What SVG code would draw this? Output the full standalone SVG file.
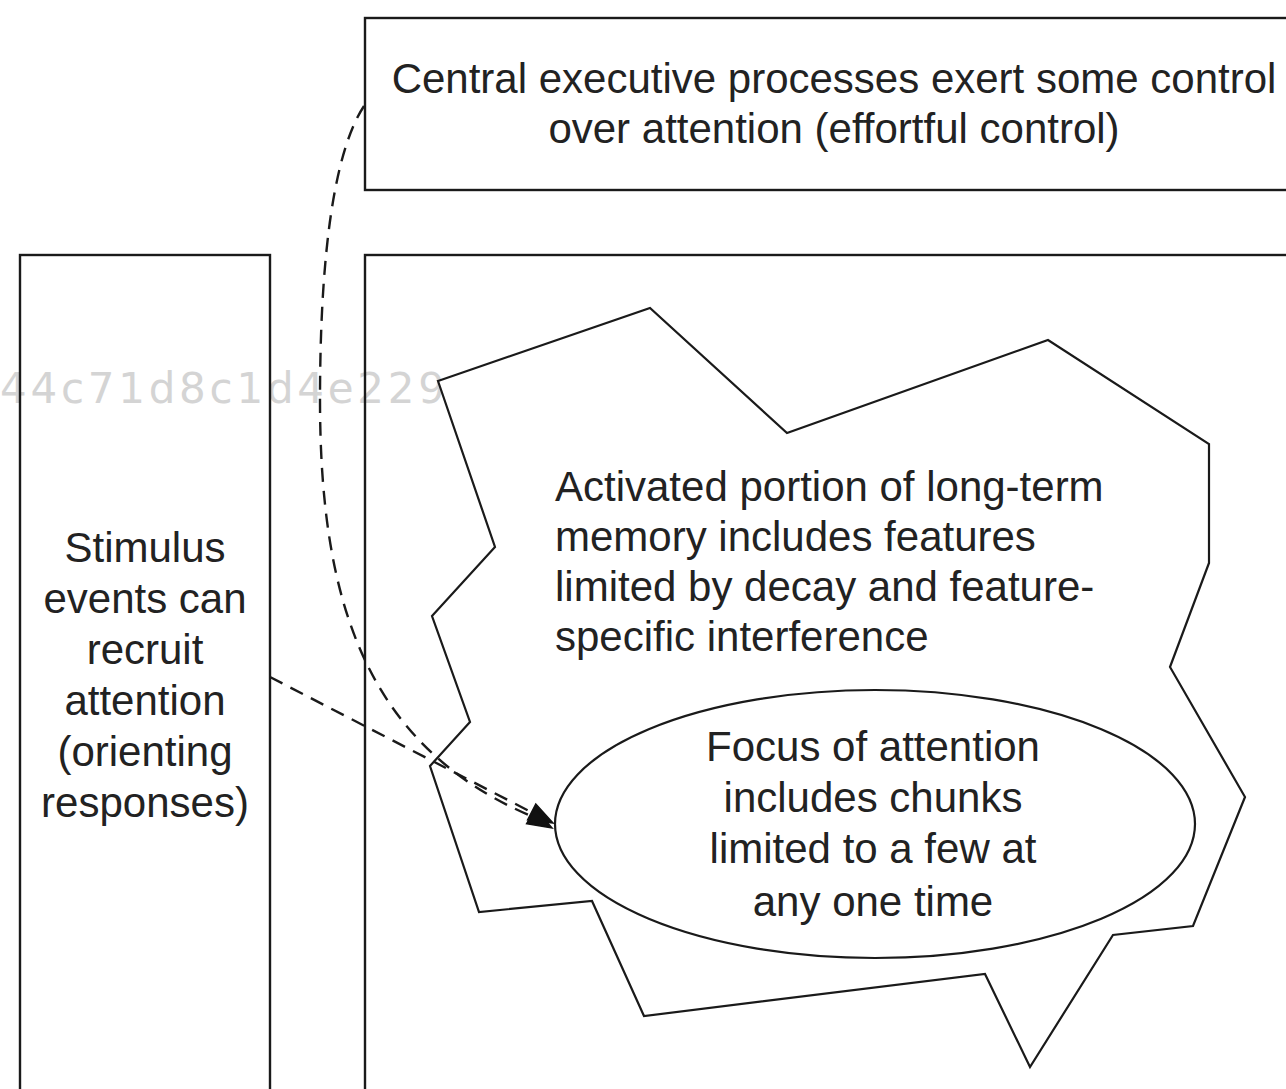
<svg xmlns="http://www.w3.org/2000/svg" width="1286" height="1089" viewBox="0 0 1286 1089">
<style>
.box{fill:none;stroke:#1a1a1a;stroke-width:2.4}
.shape{fill:#fff;stroke:#1a1a1a;stroke-width:2.2}
.t{font-family:"Liberation Sans",Arial,sans-serif;font-size:42px;fill:#222}
.c{text-anchor:middle}
.edge{fill:none;stroke:#1a1a1a;stroke-width:2.4;stroke-dasharray:14,9}
.head{fill:#111;stroke:#111;stroke-width:1.5;stroke-linejoin:miter}
.wm{font-family:"DejaVu Sans",sans-serif;font-size:42px;fill:#d4d4d4}
</style>
<rect width="1286" height="1089" fill="#fff"/>
<text class="wm" x="0" y="403" textLength="445" lengthAdjust="spacing">44c71d8c1d4e229</text>
<g id="central">
<rect class="box" x="365" y="18" width="1000" height="172"/>
<text class="t c" x="834" y="93">Central executive processes exert some control</text>
<text class="t c" x="834" y="143">over attention (effortful control)</text>
</g>
<g id="stimulus">
<rect class="box" x="20" y="255" width="250" height="900"/>
<text class="t c" x="145" y="562">Stimulus</text>
<text class="t c" x="145" y="613">events can</text>
<text class="t c" x="145" y="664">recruit</text>
<text class="t c" x="145" y="715">attention</text>
<text class="t c" x="145" y="766">(orienting</text>
<text class="t c" x="145" y="817">responses)</text>
</g>
<g id="memory">
<rect class="box" x="365" y="255" width="1000" height="900"/>
</g>
<g id="activated">
<polygon class="shape" points="438,381 650,308 787,433 1048,340 1209,444 1209,563 1170,667 1245,797 1193,926 1113,935 1030,1067 985,974 644,1016 592,901 479,912 430,766 470,722 432,616 495,547"/>
<text class="t" x="555" y="501">Activated portion of long-term</text>
<text class="t" x="555" y="551">memory includes features</text>
<text class="t" x="555" y="601">limited by decay and feature-</text>
<text class="t" x="555" y="651">specific interference</text>
</g>
<g id="focus">
<ellipse class="shape" cx="875" cy="824" rx="320" ry="134"/>
<text class="t c" x="873" y="761">Focus of attention</text>
<text class="t c" x="873" y="812">includes chunks</text>
<text class="t c" x="873" y="863">limited to a few at</text>
<text class="t c" x="873" y="916">any one time</text>
</g>
<g id="connectors">
<path class="edge" d="M270,677 L531,812"/>
<polygon class="head" points="553,823 535.8,804 527.6,820"/>
<path class="edge" d="M364,106 C335,150 320,250 320,400 C320,600 365,745 531,816"/>
<polygon class="head" points="552,828 535.4,808.2 526.6,823.8"/>
</g>
</svg>
